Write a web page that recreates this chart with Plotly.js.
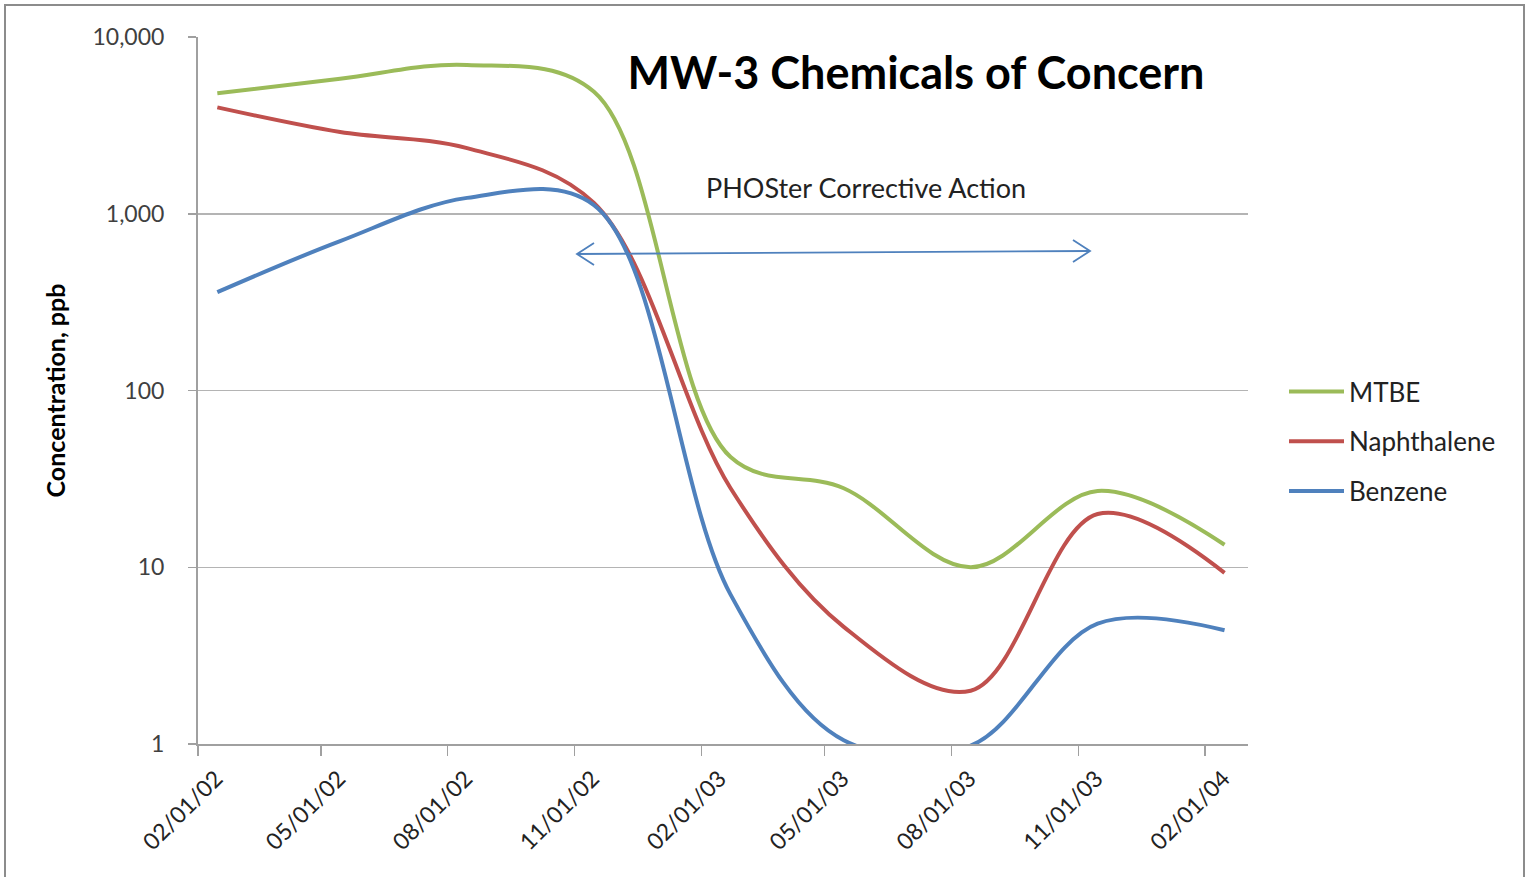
<!DOCTYPE html>
<html>
<head>
<meta charset="utf-8">
<script src="https://cdn.plot.ly/plotly-3.0.1.min.js"></script>
<style>html,body{margin:0;padding:0;background:#fff;}#chart{width:1531px;height:877px;}</style>
</head>
<body>
<div id="chart"></div>
<script>
// ---- data ----
const sampleDates = ['2002-02-15','2002-05-15','2002-08-15','2002-11-15','2003-02-22','2003-05-15','2003-08-15','2003-11-15','2004-02-15'];
const mtbe        = [4800, 5800, 6950, 4900, 42, 28, 10, 27, 13.4];
const naphthalene = [4000, 2900, 2350, 1150, 28, 4.6, 2.0, 20, 9.3];
const benzene     = [360, 700, 1230, 1120, 7, 1.05, 0.98, 4.8, 4.4];
const seriesNames = ['MTBE', 'Naphthalene', 'Benzene'];
const yTickVals = [1, 10, 100, 1000, 10000];
const yTickText = ['1', '10', '100', '1,000', '10,000'];
const chartTitle = 'MW-3 Chemicals of Concern';
const noteText = 'PHOSter Corrective Action';
const yTitle = 'Concentration, ppb';

// ---- layout geometry ----
const W = 1531, H = 877;
const L = 198, R = 1248, T = 37, B = 744;
const px = x => (x - L) / (R - L);
const py = y => (B - y) / (B - T);

const colors = ['#9bbb59', '#c0504d', '#4f81bd'];
const values = [mtbe, naphthalene, benzene];

const traces = seriesNames.map((n, i) => ({
  type: 'scatter', mode: 'lines', name: n,
  x: sampleDates, y: values[i],
  line: {color: colors[i], width: 4, shape: 'spline', smoothing: 1},
  legendgroup: n
}));

const arrowColor = '#4f81bd';
const shapes = [
  {type: 'line', xref: 'paper', yref: 'paper', x0: px(577), y0: py(254), x1: px(1090), y1: py(251),
   line: {color: arrowColor, width: 1.8}},
  {type: 'path', xref: 'paper', yref: 'paper',
   path: `M${px(594)},${py(243)} L${px(577)},${py(254)} L${px(594)},${py(265)}`,
   line: {color: arrowColor, width: 1.8}},
  {type: 'path', xref: 'paper', yref: 'paper',
   path: `M${px(1073)},${py(240)} L${px(1090)},${py(251)} L${px(1073)},${py(262)}`,
   line: {color: arrowColor, width: 1.8}},
  {type: 'rect', xref: 'paper', yref: 'paper', x0: px(5), y0: py(5), x1: px(1524), y1: py(890),
   line: {color: '#8c8c8c', width: 2}}
];

const layout = {
  width: W, height: H,
  margin: {l: L, r: W - R, t: T, b: H - B},
  paper_bgcolor: '#fff', plot_bgcolor: '#fff',
  font: {family: 'Lato, "Open Sans", sans-serif', color: '#222'},
  title: {text: '<b>' + chartTitle + '</b>', xref: 'container', yref: 'container',
          x: 916 / W, xanchor: 'center', y: 1 - 73 / H, yanchor: 'middle',
          font: {family: 'Lato, sans-serif', size: 45, color: '#000'}},
  xaxis: {
    type: 'date', range: ['2002-02-01', '2004-03-03'],
    tick0: '2002-02-01', dtick: 'M3', tickformat: '%m/%d/%y', tickangle: -45,
    ticks: 'outside', ticklen: 10, tickwidth: 1.5, tickcolor: '#a0a0a0',
    showline: true, linecolor: '#a0a0a0', linewidth: 2, showgrid: false,
    ticklabelshift: 18, ticklabelstandoff: 0,
    tickfont: {family: 'Lato, sans-serif', size: 23, color: '#222'}
  },
  yaxis: {
    type: 'log', range: [0, 4],
    tickvals: yTickVals, ticktext: yTickText,
    ticks: 'outside', ticklen: 8, tickwidth: 1.5, tickcolor: '#a0a0a0',
    showline: true, linecolor: '#a0a0a0', linewidth: 2,
    showgrid: true, gridcolor: '#b4b4b4', gridwidth: 1.5,
    ticklabelstandoff: 19,
    tickfont: {family: 'Lato, sans-serif', size: 23, color: '#404040'},
    title: {text: '<b>' + yTitle + '</b>', standoff: 20,
            font: {family: 'Lato, sans-serif', size: 25, color: '#000'}}
  },
  legend: {
    x: px(1284), xanchor: 'left', y: py(368), yanchor: 'top',
    traceorder: 'grouped', tracegroupgap: 13, itemwidth: 55,
    font: {family: 'Lato, sans-serif', size: 26, color: '#222'},
    bgcolor: 'rgba(0,0,0,0)'
  },
  showlegend: true,
  shapes: shapes,
  annotations: [
    {text: noteText, xref: 'paper', yref: 'paper', x: px(866), y: py(187),
     xanchor: 'center', yanchor: 'middle', showarrow: false,
     font: {family: 'Lato, sans-serif', size: 27, color: '#222'}}
  ]
};

Plotly.newPlot('chart', traces, layout, {displayModeBar: false, staticPlot: true});
</script>
</body>
</html>
